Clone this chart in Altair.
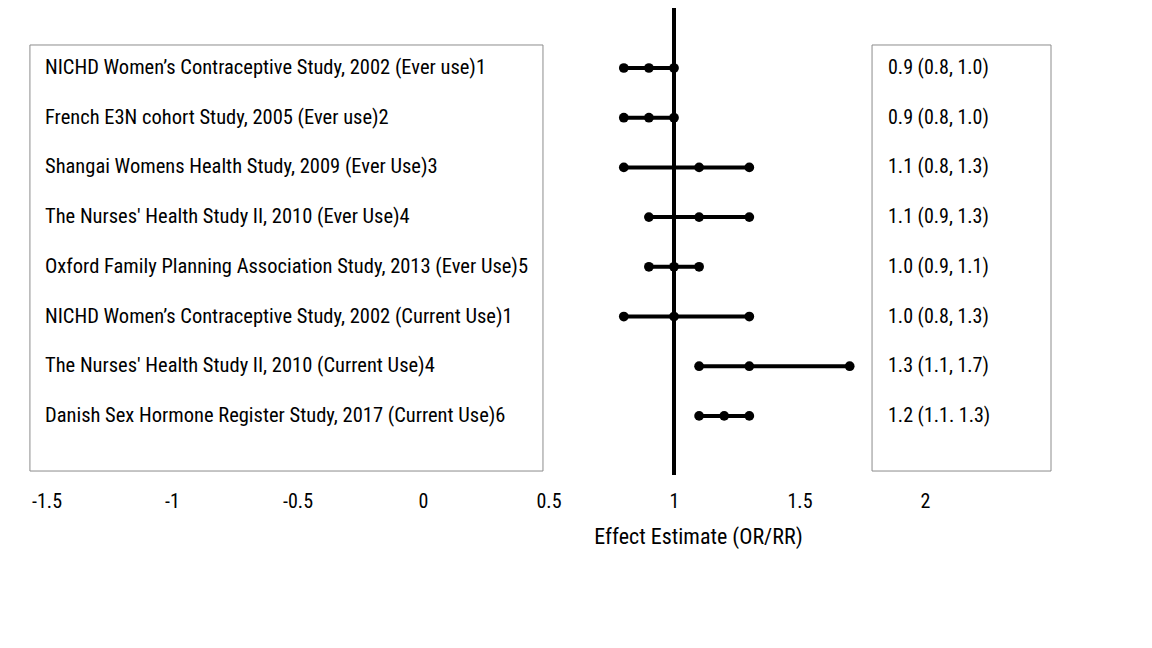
import altair as alt
import pandas as pd

studies = [
    "NICHD Women\u2019s Contraceptive Study, 2002 (Ever use)1",
    "French E3N cohort Study, 2005 (Ever use)2",
    "Shangai Womens Health Study, 2009 (Ever Use)3",
    "The Nurses' Health Study II, 2010 (Ever Use)4",
    "Oxford Family Planning Association Study, 2013 (Ever Use)5",
    "NICHD Women\u2019s Contraceptive Study, 2002 (Current Use)1",
    "The Nurses' Health Study II, 2010 (Current Use)4",
    "Danish Sex Hormone Register Study, 2017 (Current Use)6",
]
estimate = [0.9, 0.9, 1.1, 1.1, 1.0, 1.0, 1.3, 1.2]
lower = [0.8, 0.8, 0.8, 0.9, 0.9, 0.8, 1.1, 1.1]
upper = [1.0, 1.0, 1.3, 1.3, 1.1, 1.3, 1.7, 1.3]
ci_text = [
    "0.9 (0.8, 1.0)",
    "0.9 (0.8, 1.0)",
    "1.1 (0.8, 1.3)",
    "1.1 (0.9, 1.3)",
    "1.0 (0.9, 1.1)",
    "1.0 (0.8, 1.3)",
    "1.3 (1.1, 1.7)",
    "1.2 (1.1. 1.3)",
]
x_ticks = [-1.5, -1, -0.5, 0, 0.5, 1, 1.5, 2]
null_value = 1.0

FONT = "Liberation Sans Narrow, Roboto Condensed, DejaVu Sans Condensed, Arial Narrow, sans-serif"

df = pd.DataFrame({
    "row": list(range(len(studies))),
    "study": studies,
    "est": estimate,
    "lo": lower,
    "hi": upper,
    "ci": ci_text,
})
pts = pd.concat([
    df[["row", "lo"]].rename(columns={"lo": "v"}),
    df[["row", "est"]].rename(columns={"est": "v"}),
    df[["row", "hi"]].rename(columns={"hi": "v"}),
])

XDOM = [-1.6534, 2.8725]
YDOM = [-1.1066, 8.209]
xs = alt.Scale(domain=XDOM, nice=False, zero=False)
ys = alt.Scale(domain=YDOM, nice=False, zero=False, reverse=True)

boxes = pd.DataFrame({
    "x1": [-1.566, 1.789], "x2": [0.478, 2.502],
    "y1": [-0.463, -0.463], "y2": [8.109, 8.109],
})

box_layer = alt.Chart(boxes).mark_rect(fill="white", stroke="#8c8c8c", strokeWidth=1).encode(
    x=alt.X("x1:Q", scale=xs, axis=alt.Axis(
        values=x_ticks, labelExpr="datum.value + ''", ticks=False, domain=False, grid=False,
        labelFont=FONT, labelFontSize=20, labelColor="black", labelPadding=15,
        title="Effect Estimate (OR/RR)", titleFont=FONT, titleFontSize=22, titleFontWeight="normal",
        titleColor="black", titleX=690, titleY=50, titleAlign="center", titleBaseline="top")),
    x2="x2:Q",
    y=alt.Y("y1:Q", scale=ys, axis=None),
    y2="y2:Q",
)

vline = alt.Chart(pd.DataFrame({"v": [null_value], "a": [-1.268], "b": [8.19]})).mark_rule(
    color="black", strokeWidth=4).encode(
    x=alt.X("v:Q", scale=xs), y=alt.Y("a:Q", scale=ys), y2="b:Q")

ci_lines = alt.Chart(df).mark_rule(color="black", strokeWidth=4).encode(
    x=alt.X("lo:Q", scale=xs), x2="hi:Q", y=alt.Y("row:Q", scale=ys))

dots = alt.Chart(pts).mark_circle(color="black", opacity=1, size=95).encode(
    x=alt.X("v:Q", scale=xs), y=alt.Y("row:Q", scale=ys))

labels = alt.Chart(df).mark_text(align="left", baseline="middle", font=FONT, fontSize=20.5,
                                 color="black").encode(
    x=alt.value(37), y=alt.Y("row:Q", scale=ys), text="study:N")

ci_labels = alt.Chart(df).mark_text(align="left", baseline="middle", font=FONT, fontSize=20,
                                    color="black").encode(
    x=alt.value(880), y=alt.Y("row:Q", scale=ys), text="ci:N")

chart = alt.layer(box_layer, vline, ci_lines, dots, labels, ci_labels).properties(
    width=1136, height=463,
    autosize=alt.AutoSizeParams(type="none"),
    padding={"left": 0, "top": 5, "right": 0, "bottom": 150},
).configure_view(stroke=None)

chart.save("out.html", embed_options={"renderer": "svg", "actions": False})
